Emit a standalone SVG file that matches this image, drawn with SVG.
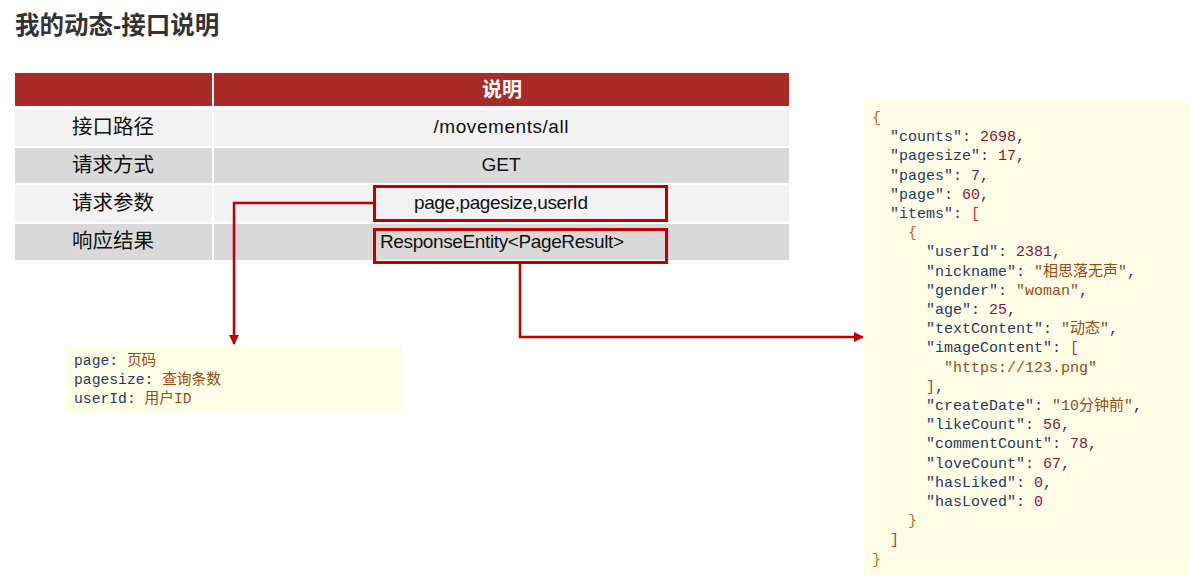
<svg xmlns="http://www.w3.org/2000/svg" width="1190" height="578" viewBox="0 0 1190 578">
<defs>
<style>
.title{font-family:"Liberation Sans","Noto Sans CJK SC",sans-serif;font-size:24.5px;font-weight:bold;fill:#333}
.cell{font-family:"Liberation Sans","Noto Sans CJK SC",sans-serif;font-size:20.5px;fill:#111}
.val{font-family:"Liberation Sans","Noto Sans CJK SC",sans-serif;font-size:19px;fill:#111}
.hdr{font-family:"Liberation Sans","Noto Sans CJK SC",sans-serif;font-size:20px;font-weight:bold;fill:#fff}
.code{font-family:"Liberation Mono","DejaVu Sans Mono","Noto Sans CJK SC",monospace;font-size:15px;fill:#1f3b63}
.note{font-family:"Liberation Mono","DejaVu Sans Mono","Noto Sans CJK SC",monospace;font-size:14.7px;fill:#1f3b63}
.k{fill:#1f3b63}
.s{fill:#9a4a12}
.n{fill:#8b1538}
.b{fill:#c8641e}
.q{fill:#c0392b}
.cjk{font-family:"Noto Sans CJK SC",sans-serif}
.redbox{fill:none;stroke:#c00000;stroke-width:3}
.conn{fill:none;stroke:#c00000;stroke-width:2.5}
</style>
<marker id="arr" viewBox="0 0 10 10" refX="9" refY="5" markerWidth="4" markerHeight="4" orient="auto" markerUnits="strokeWidth">
<path d="M0,0 L10,5 L0,10 z" fill="#c00000"/>
</marker>
</defs>
<rect width="1190" height="578" fill="#fff"/>
<text class="title" x="15" y="34">我的动态-接口说明</text>

<g id="table">
<rect x="15" y="73" width="197" height="33" fill="#a92a27"/>
<rect x="214" y="73" width="575" height="33" fill="#a92a27"/>
<text class="hdr" x="502" y="97" text-anchor="middle">说明</text>
<rect x="15" y="110" width="197" height="36" fill="#f2f2f2"/>
<rect x="214" y="110" width="575" height="36" fill="#f2f2f2"/>
<rect x="15" y="148" width="197" height="35" fill="#d9d9d9"/>
<rect x="214" y="148" width="575" height="35" fill="#d9d9d9"/>
<rect x="15" y="185" width="197" height="37" fill="#f2f2f2"/>
<rect x="214" y="185" width="575" height="37" fill="#f2f2f2"/>
<rect x="15" y="224" width="197" height="36" fill="#d9d9d9"/>
<rect x="214" y="224" width="575" height="36" fill="#d9d9d9"/>
<text class="cell" x="113" y="134" text-anchor="middle">接口路径</text>
<text class="cell" x="113" y="172" text-anchor="middle">请求方式</text>
<text class="cell" x="113" y="210" text-anchor="middle">请求参数</text>
<text class="cell" x="113" y="248" text-anchor="middle">响应结果</text>
<text class="val" x="501" y="133" text-anchor="middle" textLength="135">/movements/all</text>
<text class="val" x="501" y="171" text-anchor="middle">GET</text>
<text class="val" x="414" y="209" textLength="174">page,pagesize,userId</text>
<text class="val" x="380" y="248" textLength="244">ResponseEntity&lt;PageResult&gt;</text>
</g>

<g id="box-params"><rect class="redbox" x="374.5" y="186.5" width="292" height="34"/></g>
<g id="box-result"><rect class="redbox" x="374.5" y="229.5" width="292" height="33"/></g>

<g id="note">
<rect x="65" y="345" width="337" height="68" fill="#fefee6"/>
<text class="note" x="74" y="365">page: <tspan class="s cjk">页码</tspan></text>
<text class="note" x="74" y="384">pagesize: <tspan class="s cjk">查询条数</tspan></text>
<text class="note" x="74" y="403">userId: <tspan class="s cjk">用户</tspan><tspan class="s">ID</tspan></text>
</g>

<g id="json">
<rect x="864" y="100" width="326" height="475" fill="#fffde6"/>
<text class="code" x="872" y="122"><tspan class="b">{</tspan></text>
<text class="code" x="890" y="141.2">"counts": <tspan class="n">2698</tspan>,</text>
<text class="code" x="890" y="160.4">"pagesize": <tspan class="n">17</tspan>,</text>
<text class="code" x="890" y="179.6">"pages": <tspan class="n">7</tspan>,</text>
<text class="code" x="890" y="198.8">"page": <tspan class="n">60</tspan>,</text>
<text class="code" x="890" y="218">"items": <tspan class="q">[</tspan></text>
<text class="code" x="908" y="237.2"><tspan class="b">{</tspan></text>
<text class="code" x="926" y="256.4">"userId": <tspan class="n">2381</tspan>,</text>
<text class="code" x="926" y="275.6">"nickname": <tspan class="s">"<tspan class="cjk">相思落无声</tspan>"</tspan>,</text>
<text class="code" x="926" y="294.8">"gender": <tspan class="s">"woman"</tspan>,</text>
<text class="code" x="926" y="314">"age": <tspan class="n">25</tspan>,</text>
<text class="code" x="926" y="333.2">"textContent": <tspan class="s">"<tspan class="cjk">动态</tspan>"</tspan>,</text>
<text class="code" x="926" y="352.4">"imageContent": <tspan class="q">[</tspan></text>
<text class="code" x="944" y="371.6"><tspan class="s">"https://123.png"</tspan></text>
<text class="code" x="926" y="390.8"><tspan class="q">]</tspan>,</text>
<text class="code" x="926" y="410">"createDate": <tspan class="s">"10<tspan class="cjk">分钟前</tspan>"</tspan>,</text>
<text class="code" x="926" y="429.2">"likeCount": <tspan class="n">56</tspan>,</text>
<text class="code" x="926" y="448.4">"commentCount": <tspan class="n">78</tspan>,</text>
<text class="code" x="926" y="467.6">"loveCount": <tspan class="n">67</tspan>,</text>
<text class="code" x="926" y="486.8">"hasLiked": <tspan class="n">0</tspan>,</text>
<text class="code" x="926" y="506">"hasLoved": <tspan class="n">0</tspan></text>
<text class="code" x="908" y="525.2"><tspan class="b">}</tspan></text>
<text class="code" x="890" y="544.4"><tspan class="q">]</tspan></text>
<text class="code" x="872" y="563.6"><tspan class="b">}</tspan></text>
</g>

<g id="connectors">
<path class="conn" d="M374,203 H234 V344" marker-end="url(#arr)"/>
<path class="conn" d="M520,263 V337 H863" marker-end="url(#arr)"/>
</g>
</svg>
